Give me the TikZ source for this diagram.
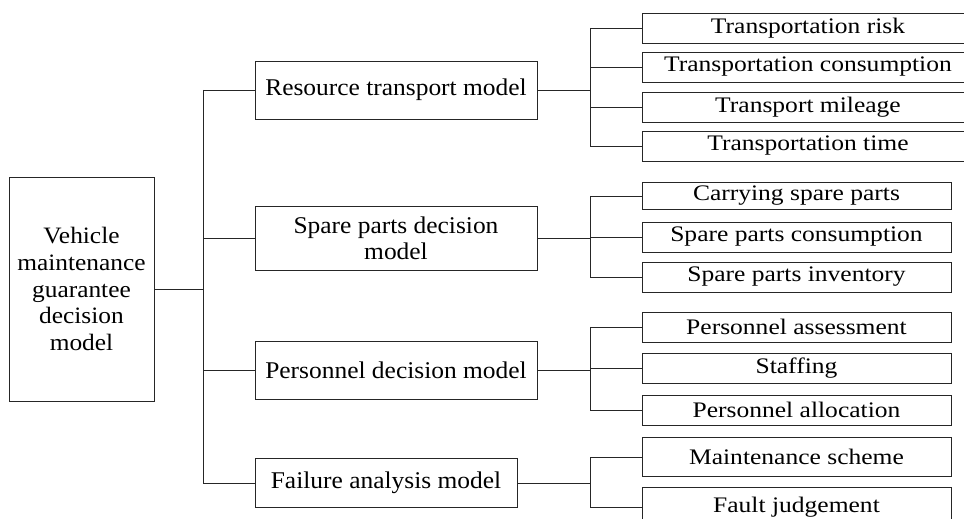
\documentclass[tikz,border=0pt]{standalone}
\usepackage{fontspec}
\setmainfont{Liberation Serif}
\newfontfamily\rootfont[FakeStretch=1.08]{Liberation Serif}
\newfontfamily\midfont[FakeStretch=1.06]{Liberation Serif}
\newfontfamily\leaffont[FakeStretch=1.15]{Liberation Serif}
\begin{document}
\begin{tikzpicture}[x=1bp,y=-1bp,
  box/.style={draw=black!85, line width=0.9bp, inner sep=0pt, align=center},
  conn/.style={draw=black!85, line width=0.9bp},
  rootbox/.style={box, font=\rootfont\fontsize{23.5bp}{26.7bp}\selectfont},
  midbox/.style={box, font=\midfont\fontsize{24bp}{26bp}\selectfont},
  leafT/.style={box, font=\leaffont\fontsize{22.2bp}{24bp}\selectfont, minimum width=332bp, minimum height=30bp},
  leaf/.style={leafT, minimum width=309bp}]
\useasboundingbox (0,0) rectangle (964,519);
\clip (0,0) rectangle (964,519);
% root
\node[rootbox, minimum width=145bp, minimum height=224bp] (root) at (81.5,289)
  {Vehicle\\maintenance\\guarantee\\decision\\model};
% level 1
\node[midbox, minimum width=282bp, minimum height=58bp] (res) at (396,90) {Resource transport model};
\node[midbox, minimum width=282bp, minimum height=64bp] (spa) at (396,238) {Spare parts decision\\model};
\node[midbox, minimum width=282bp, minimum height=58bp] (per) at (396,370) {Personnel decision model};
\node[midbox, minimum width=262bp, minimum height=49bp] (fai) at (386,483) {Failure analysis model};
% leaves
\node[leafT] (r1) at (808,28) {Transportation risk};
\node[leafT] (r2) at (808,67) {Transportation consumption};
\node[leafT] (r3) at (808,107) {Transport mileage};
\node[leafT] (r4) at (808,146) {Transportation time};
\node[leaf, minimum height=27bp] (s1) at (796.5,196) {Carrying spare parts};
\node[leaf] (s2) at (796.5,237) {Spare parts consumption};
\node[leaf] (s3) at (796.5,277) {Spare parts inventory};
\node[leaf] (p1) at (796.5,327) {Personnel assessment};
\node[leaf] (p2) at (796.5,368) {Staffing};
\node[leaf] (p3) at (796.5,410) {Personnel allocation};
\node[leaf, minimum height=39bp] (f1) at (796.5,457) {Maintenance scheme};
\node[leaf, minimum height=39bp] (f2) at (796.5,507) {Fault judgement};
% trunk
\coordinate (t0) at (203,289);
\draw[conn] (root.east |- t0) -- (t0);
\draw[conn] (t0 |- res.west) -- (t0 |- fai.west);
\foreach \n in {res,spa,per,fai} \draw[conn] (t0 |- \n.west) -- (\n.west);
% sub trunks
\coordinate (st) at (590,0);
\foreach \a/\f/\l/\list in {res/r1/r4/{r1,r2,r3,r4}, spa/s1/s3/{s1,s2,s3}, per/p1/p3/{p1,p2,p3}, fai/f1/f2/{f1,f2}}{
  \draw[conn] (\a.east) -- (st |- \a.east);
  \draw[conn] (st |- \f.west) -- (st |- \l.west);
  \foreach \m in \list \draw[conn] (st |- \m.west) -- (\m.west);
}
\end{tikzpicture}
\end{document}
